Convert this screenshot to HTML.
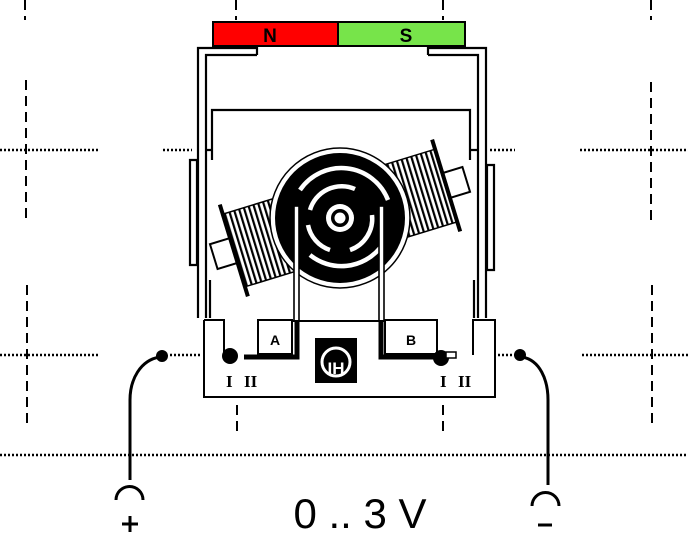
<!DOCTYPE html>
<html><head><style>
html,body{margin:0;padding:0;background:#fff;}
svg{display:block;}
</style></head><body>
<svg width="688" height="535" viewBox="0 0 688 535" xmlns="http://www.w3.org/2000/svg">
<defs>
<pattern id="st" width="5" height="10" patternUnits="userSpaceOnUse"><rect width="5" height="10" fill="#fff"/><rect width="2.2" height="10" fill="#000"/></pattern>
</defs>
<!-- grid -->
<g stroke="#000" stroke-width="2" fill="none">
<g stroke-dasharray="10,6">
<path d="M25 0V20M26 80V220M27 285V425"/>
<path d="M651 0V20M651 82V222M652 285V425"/>
<path d="M236 0V20M237 405V432M443 0V20M443 405V432"/>
</g>
<g stroke-dasharray="2,2" stroke-width="2.5">
<path d="M0 150H98M163 150H192M490 150H515M580 150H688"/>
<path d="M0 355H100M170 355H200M498 355H520M582 355H688"/>
<path d="M0 455H688"/>
</g>
</g>
<!-- magnet -->
<rect x="213" y="22" width="125" height="24" fill="#ff0000" stroke="#000" stroke-width="2"/>
<rect x="338" y="22" width="127" height="24" fill="#77e44a" stroke="#000" stroke-width="2"/>
<text x="270" y="42" font-family="Liberation Sans, sans-serif" font-weight="bold" font-size="19" text-anchor="middle">N</text>
<text x="406" y="42" font-family="Liberation Sans, sans-serif" font-weight="bold" font-size="19" text-anchor="middle">S</text>
<!-- frame -->
<g stroke="#000" stroke-width="2.2" fill="none">
<path d="M198 318V48H257V55"/>
<path d="M206 318V55H257"/>
<path d="M486 318V48H428V55"/>
<path d="M478 318V55H428"/>
<path d="M212 160V110H470V160"/>
<path d="M212 150H206M470 150H478"/>
<path d="M190 160H197V265H190Z"/>
<path d="M487 165H494V270H487Z"/>
<path d="M210 280V318M474 280V318"/>
</g>
<!-- coils -->
<g transform="rotate(-17 340 218)">
<rect x="208" y="205" width="22" height="26" fill="#fff" stroke="#000" stroke-width="2"/>
<rect x="230" y="180" width="76" height="76" fill="url(#st)" stroke="#000" stroke-width="1.5"/>
<line x1="229" y1="170" x2="229" y2="266" stroke="#000" stroke-width="4"/>
<rect x="450" y="205" width="22" height="26" fill="#fff" stroke="#000" stroke-width="2"/>
<rect x="374" y="180" width="76" height="76" fill="url(#st)" stroke="#000" stroke-width="1.5"/>
<line x1="451" y1="170" x2="451" y2="266" stroke="#000" stroke-width="4"/>
</g>
<!-- rotor -->
<circle cx="340" cy="218" r="70" fill="#fff" stroke="#000" stroke-width="1.5"/>
<circle cx="340" cy="218" r="65" fill="#000"/>
<g fill="none" stroke="#fff" stroke-width="4.5">
<path d="M300 190A50 50 0 0 1 388 200"/>
<path d="M310 255A50 50 0 0 0 380 248"/>
<path d="M310 210A33 33 0 0 1 355 189"/>
<path d="M372 215A33 33 0 0 1 350 250"/>
<path d="M330 250A33 33 0 0 1 308 225"/>
</g>
<circle cx="340" cy="218" r="14" fill="#fff"/>
<circle cx="340" cy="218" r="9" fill="#000"/>
<circle cx="340" cy="218" r="5.5" fill="#fff"/>
<!-- brushes -->
<rect x="294" y="206" width="5" height="116" fill="#fff" stroke="#000" stroke-width="1.6"/>
<rect x="379" y="206" width="5" height="116" fill="#fff" stroke="#000" stroke-width="1.6"/>
<!-- base -->
<rect x="204" y="320" width="291" height="77" fill="#fff" stroke="none"/>
<path d="M204 320V397H495V320H473V355M204 320H224V355M292 321H385" fill="none" stroke="#000" stroke-width="2"/>
<rect x="258" y="320" width="34" height="34" fill="#fff" stroke="#000" stroke-width="2"/>
<rect x="385" y="320" width="52" height="34" fill="#fff" stroke="#000" stroke-width="2"/>
<text x="275" y="345" font-family="Liberation Sans, sans-serif" font-weight="bold" font-size="14" text-anchor="middle">A</text>
<text x="411" y="345" font-family="Liberation Sans, sans-serif" font-weight="bold" font-size="14" text-anchor="middle">B</text>
<path d="M297 322V357H244M381 322V357H440" stroke="#000" stroke-width="5" fill="none"/>
<circle cx="230" cy="356" r="8" fill="#000"/>
<circle cx="441" cy="358" r="8" fill="#000"/>
<rect x="446" y="352" width="10" height="6" fill="#fff" stroke="#000" stroke-width="1.5"/>
<rect x="315" y="338" width="42" height="45" fill="#000"/>
<circle cx="336" cy="362" r="14" fill="none" stroke="#fff" stroke-width="3"/>
<text x="336" y="374" font-family="Liberation Sans, sans-serif" font-weight="bold" font-size="17" fill="#fff" text-anchor="middle">IH</text>
<g font-family="Liberation Serif, serif" font-size="17" font-weight="bold">
<text x="226" y="387">I</text><text x="244" y="387">II</text>
<text x="440" y="387">I</text><text x="458" y="387">II</text>
</g>
<!-- terminals -->
<g stroke="#000" stroke-width="3" fill="none">
<path d="M160 357C140 360 130 380 130 400V480"/>
<path d="M116 500A13 13 0 0 1 143 500"/>
<path d="M522 357C540 360 548 380 548 400V485"/>
<path d="M532 506A13 13 0 0 1 559 506"/>
</g>
<circle cx="162" cy="356" r="6" fill="#000"/>
<circle cx="520" cy="355" r="6" fill="#000"/>
<path d="M130 516V532M122 524H138" stroke="#000" stroke-width="3"/>
<path d="M538 525H552" stroke="#000" stroke-width="3"/>
<text x="360" y="528" font-family="Liberation Sans, sans-serif" font-size="42" text-anchor="middle">0 .. 3 V</text>
</svg>
</body></html>
